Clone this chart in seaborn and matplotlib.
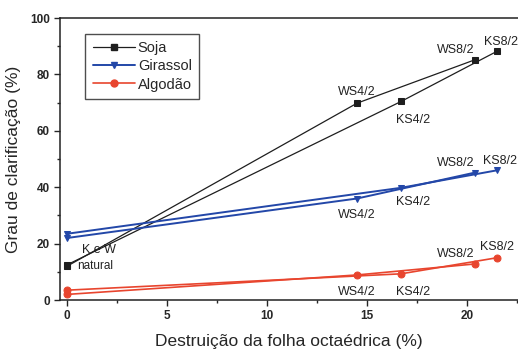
import numpy as np
import pandas as pd
import matplotlib
matplotlib.use('Agg')
import matplotlib.pyplot as plt
import seaborn as sns
from matplotlib.lines import Line2D
from matplotlib.ticker import MultipleLocator

# data: natural -> S4/2 -> S8/2, for W and K routes
series = ['Soja', 'Girassol', 'Algodão']
w_x = [0, 14.5, 20.4]
k_x = [0, 16.7, 21.5]
soja_w = [12.0, 69.8, 85.2]
soja_k = [12.5, 70.4, 88.2]
girassol_w = [22.0, 36.0, 45.2]
girassol_k = [23.5, 39.8, 46.0]
algodao_w = [2.0, 8.9, 12.8]
algodao_k = [3.5, 9.3, 15.0]
w_labels = ['', 'WS4/2', 'WS8/2']
k_labels = ['', 'KS4/2', 'KS8/2']

rows = []
for s, yw, yk in zip(series, [soja_w, girassol_w, algodao_w], [soja_k, girassol_k, algodao_k]):
    for i in range(3):
        rows.append({'serie': s, 'rota': 'W', 'x': w_x[i], 'y': yw[i], 'lab': w_labels[i]})
        rows.append({'serie': s, 'rota': 'K', 'x': k_x[i], 'y': yk[i], 'lab': k_labels[i]})
df = pd.DataFrame(rows)

colors = {'Soja': '#1e1e1e', 'Girassol': '#2347a8', 'Algodão': '#e8452e'}
markers = {'Soja': 's', 'Girassol': 'v', 'Algodão': 'o'}
lws = {'Soja': 0.9, 'Girassol': 1.4, 'Algodão': 1.2}

sns.set_style('ticks')
plt.rcParams['font.family'] = ['Liberation Sans', 'DejaVu Sans']

fig = plt.figure(figsize=(5.18, 3.53), dpi=100)
ax = fig.add_axes([0.116, 0.150, 0.884, 0.799])

for s in series:
    for r in ['W', 'K']:
        d = df[(df.serie == s) & (df.rota == r)]
        sns.lineplot(data=d, x='x', y='y', ax=ax, color=colors[s], marker=markers[s],
                     markersize=5, markeredgecolor=colors[s], lw=lws[s],
                     estimator=None, sort=False, legend=False)

# point labels (offsets in points)
offs = {
    ('Soja', 'WS4/2'): (0, 8), ('Soja', 'KS4/2'): (9, -13), ('Soja', 'WS8/2'): (-14, 7), ('Soja', 'KS8/2'): (3, 7),
    ('Girassol', 'WS4/2'): (0, -12), ('Girassol', 'KS4/2'): (9, -10), ('Girassol', 'WS8/2'): (-14, 7), ('Girassol', 'KS8/2'): (2, 7),
    ('Algodão', 'WS4/2'): (0, -12), ('Algodão', 'KS4/2'): (9, -13), ('Algodão', 'WS8/2'): (-14, 7), ('Algodão', 'KS8/2'): (0, 8),
}
for _, row in df[df.lab != ''].iterrows():
    dx, dy = offs[(row.serie, row.lab)]
    ax.annotate(row.lab, (row.x, row.y), xytext=(dx, dy), textcoords='offset points',
                ha='center', va='center', fontsize=9, color='#222222')

ax.annotate('K e W', (0, soja_k[0]), xytext=(23, 11), textcoords='offset points',
            ha='center', va='center', fontsize=9, color='#222222')
ax.annotate('natural', (0, soja_w[0]), xytext=(20, 0), textcoords='offset points',
            ha='center', va='center', fontsize=8.5, color='#222222')

ax.set_xlim(-0.35, 22.55)
ax.set_ylim(0, 100)
ax.xaxis.set_major_locator(MultipleLocator(5))
ax.xaxis.set_minor_locator(MultipleLocator(2.5))
ax.yaxis.set_major_locator(MultipleLocator(20))
ax.yaxis.set_minor_locator(MultipleLocator(10))
ax.tick_params(which='major', length=4, width=1, labelsize=8.5, direction='out')
ax.tick_params(which='minor', length=2.5, width=1, direction='out')
for lab in ax.get_xticklabels() + ax.get_yticklabels():
    lab.set_fontweight('bold')
ax.spines['right'].set_visible(False)
for sp in ['left', 'bottom', 'top']:
    ax.spines[sp].set_linewidth(1.1)
    ax.spines[sp].set_color('#222222')

ax.set_xlabel('Destruição da folha octaédrica (%)', fontsize=12.5, labelpad=8)
ax.set_ylabel('Grau de clarificação (%)', fontsize=12.5, labelpad=6)

handles = [Line2D([], [], color=colors[s], marker=markers[s], markersize=5, lw=lws[s]) for s in series]
leg = ax.legend(handles, series, loc='upper left', bbox_to_anchor=(0.055, 0.945), fontsize=10.5,
                frameon=True, fancybox=False, edgecolor='#222222', handlelength=2.9,
                borderpad=0.5, labelspacing=0.3, handletextpad=0.2, borderaxespad=0)
leg.get_frame().set_linewidth(1.0)

fig.savefig('out.png', dpi=100)
